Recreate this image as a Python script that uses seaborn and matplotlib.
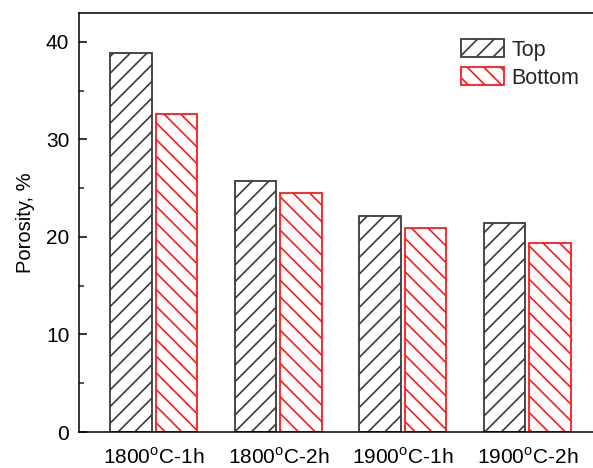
import matplotlib
matplotlib.use("Agg")
import matplotlib.pyplot as plt
import seaborn as sns
import pandas as pd
from matplotlib.ticker import MultipleLocator

conditions = ["1800$^\\mathregular{o}$C-1h", "1800$^\\mathregular{o}$C-2h",
              "1900$^\\mathregular{o}$C-1h", "1900$^\\mathregular{o}$C-2h"]
top_vals = [38.9, 25.7, 22.1, 21.4]
bottom_vals = [32.6, 24.5, 20.9, 19.4]
series = ["Top", "Bottom"]

df = pd.DataFrame({
    "condition": conditions * 2,
    "porosity": top_vals + bottom_vals,
    "position": [series[0]] * 4 + [series[1]] * 4,
})

sns.set_style("white")
plt.rcParams["font.family"] = ["Liberation Sans", "DejaVu Sans"]
plt.rcParams["hatch.linewidth"] = 1.2

colors = {"Top": "#3a3a3a", "Bottom": "#ff1a1a"}
hatches = {"Top": "//", "Bottom": "\\\\"}

fig = plt.figure(figsize=(5.93, 4.68), dpi=100)
ax = fig.add_axes([79 / 593, 36 / 468, 523 / 593, 419.3 / 468])

sns.barplot(data=df, x="condition", y="porosity", hue="position",
            hue_order=series, palette=colors, fill=False, width=0.73, gap=0.08,
            errorbar=None, legend=False, linewidth=1.3, ax=ax)

for cont, name in zip(ax.containers, series):
    for p in cont.patches:
        p.set_facecolor("none")
        p.set_edgecolor(colors[name])
        if hasattr(p, "set_hatchcolor"):
            p.set_hatchcolor(colors[name])
        p.set_hatch(hatches[name])
        p.set_linewidth(1.3)

ax.set_xlim(-0.6, 3.6)
ax.set_ylim(0, 43)
ax.yaxis.set_major_locator(MultipleLocator(10))
ax.yaxis.set_minor_locator(MultipleLocator(5))
ax.tick_params(axis="y", which="major", direction="in", length=6, width=1.1,
               labelsize=15, pad=7, left=True, colors="black")
ax.tick_params(axis="y", which="minor", direction="in", length=3.5, width=1.1, left=True)
ax.tick_params(axis="x", length=0, labelsize=15, pad=11, colors="black")
ax.set_xlabel("")
ax.set_ylabel("Porosity, %", fontsize=14.5, labelpad=8, color="black")

for s in ["left", "bottom", "top", "right"]:
    ax.spines[s].set_visible(True)
    ax.spines[s].set_color("black")
    ax.spines[s].set_linewidth(1.1)

leg = ax.legend(ax.containers, series, loc="upper left",
                bbox_to_anchor=(461 / 593, 1 - 39 / 468), bbox_transform=fig.transFigure,
                frameon=False, fontsize=15.5, handlelength=2.0, handleheight=0.93,
                handletextpad=0.35, labelspacing=0.3, borderpad=0, borderaxespad=0)

fig.savefig("out.png", dpi=100, facecolor="white")
